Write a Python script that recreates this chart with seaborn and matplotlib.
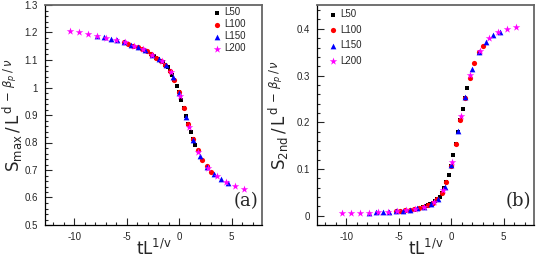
import matplotlib
matplotlib.use("Agg")
import matplotlib.pyplot as plt
import seaborn as sns
import pandas as pd
from matplotlib.ticker import MultipleLocator, FuncFormatter

sns.set_style("ticks")
plt.rcParams['font.family'] = ['Liberation Sans', 'DejaVu Sans']
plt.rcParams['mathtext.fontset'] = 'dejavusans'

series_names = ["L50", "L100", "L150", "L200"]

# scaled variable t L^{1/nu}
x_L50 = [-2.65, -2.43, -2.21, -1.99, -1.77, -1.55, -1.33, -1.11, -0.89, -0.67,
         -0.45, -0.23, -0.01, 0.21, 0.43, 0.65, 0.87, 1.09, 1.31, 1.53]
x_L100 = [-5.28, -4.84, -4.40, -3.96, -3.52, -3.09, -2.65, -2.21, -1.77, -1.33,
          -0.89, -0.45, -0.01, 0.43, 0.87, 1.31, 1.75, 2.19, 2.62, 3.06]
x_L150 = [-7.86, -7.20, -6.55, -5.89, -5.23, -4.58, -3.92, -3.26, -2.60, -1.95,
          -1.29, -0.63, 0.02, 0.68, 1.34, 1.99, 2.65, 3.31, 3.97, 4.62]
x_L200 = [-10.45, -9.57, -8.69, -7.82, -6.94, -6.06, -5.18, -4.30, -3.43, -2.55,
          -1.67, -0.79, 0.09, 0.96, 1.84, 2.72, 3.60, 4.48, 5.35, 6.23]

# panel (a): S_max / L^{d - beta_p/nu}
smax_L50 = [1.120, 1.115, 1.109, 1.104, 1.098, 1.091, 1.082, 1.074, 1.061, 1.045,
            1.026, 1.005, 0.983, 0.955, 0.926, 0.895, 0.866, 0.837, 0.812, 0.792]
smax_L100 = [1.165, 1.159, 1.152, 1.146, 1.140, 1.132, 1.120, 1.109, 1.098, 1.083,
             1.061, 1.026, 0.983, 0.926, 0.866, 0.812, 0.772, 0.737, 0.713, 0.694]
smax_L150 = [1.189, 1.183, 1.177, 1.171, 1.164, 1.155, 1.146, 1.135, 1.119, 1.102,
             1.082, 1.040, 0.979, 0.891, 0.810, 0.752, 0.712, 0.685, 0.666, 0.653]
smax_L200 = [1.207, 1.201, 1.196, 1.189, 1.180, 1.172, 1.164, 1.151, 1.139, 1.118,
             1.095, 1.055, 0.970, 0.855, 0.765, 0.709, 0.678, 0.657, 0.643, 0.632]

# panel (b): S_2nd / L^{d - beta_p/nu}
s2_L50 = [0.019, 0.020, 0.022, 0.025, 0.027, 0.031, 0.035, 0.041, 0.049, 0.059,
          0.072, 0.087, 0.106, 0.129, 0.154, 0.179, 0.204, 0.229, 0.252, 0.274]
s2_L100 = [0.010, 0.011, 0.012, 0.013, 0.015, 0.016, 0.019, 0.022, 0.027, 0.035,
           0.049, 0.072, 0.106, 0.154, 0.204, 0.252, 0.295, 0.327, 0.350, 0.364]
s2_L150 = [0.006, 0.007, 0.007, 0.008, 0.010, 0.011, 0.013, 0.016, 0.019, 0.025,
           0.036, 0.061, 0.108, 0.182, 0.255, 0.314, 0.351, 0.372, 0.386, 0.394]
s2_L200 = [0.005, 0.005, 0.006, 0.006, 0.007, 0.008, 0.010, 0.012, 0.015, 0.019,
           0.029, 0.054, 0.114, 0.214, 0.302, 0.353, 0.380, 0.393, 0.400, 0.404]

xs = dict(zip(series_names, [x_L50, x_L100, x_L150, x_L200]))
ya = dict(zip(series_names, [smax_L50, smax_L100, smax_L150, smax_L200]))
yb = dict(zip(series_names, [s2_L50, s2_L100, s2_L150, s2_L200]))

rows = []
for n in series_names:
    for xv, a, b in zip(xs[n], ya[n], yb[n]):
        rows.append({"L": n, "x": xv, "smax": a, "s2": b})
df = pd.DataFrame(rows)

colors = {"L50": "#000000", "L100": "#ff0000", "L150": "#0000ff", "L200": "#ff00ff"}
markers = {"L50": "s", "L100": "o", "L150": "^", "L200": "*"}
sizes = {"L50": 10, "L100": 14, "L150": 17, "L200": 32}

fig = plt.figure(figsize=(5.45, 2.68), dpi=100)
axA = fig.add_axes([45 / 545, 43 / 268, 217 / 545, 220 / 268])
axB = fig.add_axes([317 / 545, 43 / 268, 217 / 545, 220 / 268])

for ax, col in ((axA, "smax"), (axB, "s2")):
    for n in series_names:
        sub = df[df["L"] == n]
        sns.scatterplot(data=sub, x="x", y=col, ax=ax, marker=markers[n],
                        color=colors[n], s=sizes[n], linewidth=0, label=n,
                        legend=False)
    ax.set_xlim(-12.8, 7.9)
    ax.xaxis.set_major_locator(MultipleLocator(5))
    ax.xaxis.set_minor_locator(MultipleLocator(1))
    ax.tick_params(which="both", direction="in", top=False, right=False,
                   labelsize=7, width=0.8)
    ax.tick_params(which="major", length=5, pad=5)
    ax.tick_params(which="minor", length=2.5)
    ax.xaxis.set_major_formatter(FuncFormatter(lambda v, p: "%g" % v))
    ax.yaxis.set_major_formatter(FuncFormatter(lambda v, p: "%g" % round(v, 3)))
    ax.set_xlabel(r"$\mathsf{tL}^{\mathsf{1/v}}$", fontsize=12)
    ax.xaxis.set_label_coords(0.5, -0.06)
    for s in ("left", "bottom"):
        ax.spines[s].set_color("black")
        ax.spines[s].set_linewidth(0.9)
    for s in ("top", "right"):
        ax.spines[s].set_color("#666666")
        ax.spines[s].set_linewidth(1.3)

ylab_a = r"$\mathsf{S_{max}}\,/\,\mathsf{L}^{\,\mathsf{d}\,-\,\beta_p\,/\,\nu}$"
ylab_b = r"$\mathsf{S_{2nd}}\,/\,\mathsf{L}^{\,\mathsf{d}\,-\,\beta_p\,/\,\nu}$"

axA.set_ylim(0.5, 1.3)
axA.yaxis.set_major_locator(MultipleLocator(0.1))
axA.yaxis.set_minor_locator(MultipleLocator(0.02))
axA.set_ylabel(ylab_a, fontsize=12)
axA.yaxis.set_label_coords(-0.092, 0.5)
axA.text(0.985, 0.11, "(a)", transform=axA.transAxes, ha="right", va="center",
         fontsize=13, family="DejaVu Serif")

axB.set_ylim(-0.02, 0.451)
axB.yaxis.set_major_locator(MultipleLocator(0.1))
axB.yaxis.set_minor_locator(MultipleLocator(0.02))
axB.set_ylabel(ylab_b, fontsize=12)
axB.yaxis.set_label_coords(-0.12, 0.5)
axB.text(0.985, 0.11, "(b)", transform=axB.transAxes, ha="right", va="center",
         fontsize=13, family="DejaVu Serif")

axA.legend(loc="upper left", bbox_to_anchor=(0.74, 1.025), frameon=False,
           fontsize=7, handlelength=0.8, handletextpad=0.3, labelspacing=0.2,
           borderpad=0.3)
axB.legend(loc="upper left", bbox_to_anchor=(0.02, 1.015), frameon=False,
           fontsize=7, handlelength=0.8, handletextpad=0.3, labelspacing=0.55,
           borderpad=0.3)

fig.savefig("out.png", dpi=100)
